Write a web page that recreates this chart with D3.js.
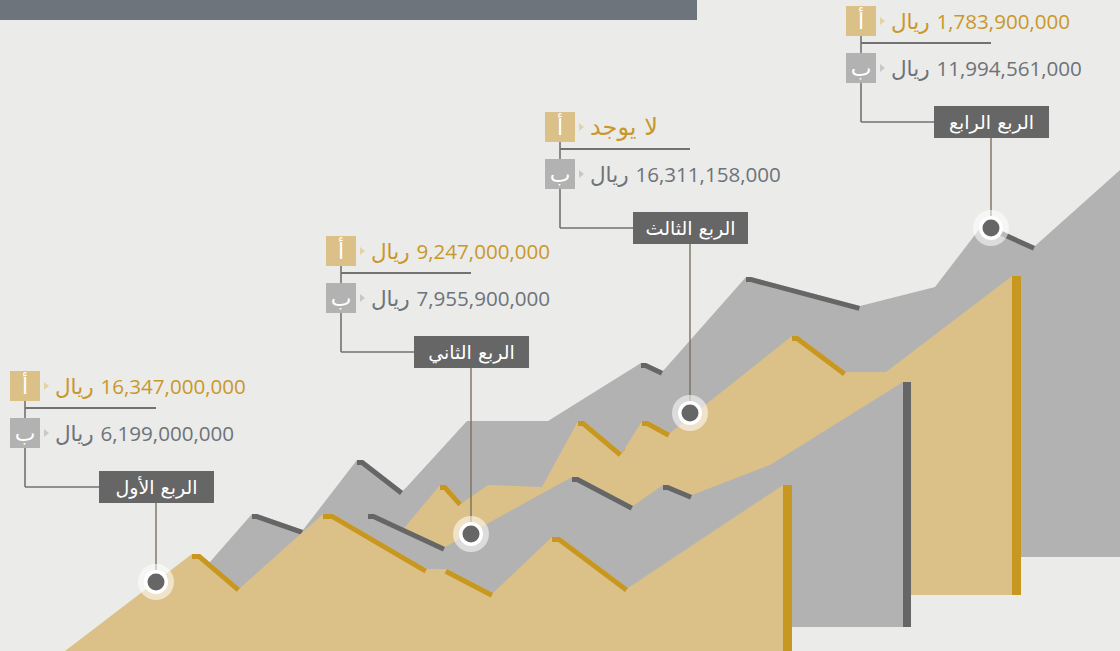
<!DOCTYPE html>
<html lang="ar">
<head>
<meta charset="utf-8">
<script src="https://cdn.jsdelivr.net/npm/d3@7"></script>
<style>
  html, body { margin: 0; padding: 0; background: #ebebe9; }
  svg { display: block; }
</style>
</head>
<body>
<div class="canvas"></div>
<script>
// chart data
const quarters = ['الربع الأول', 'الربع الثاني', 'الربع الثالث', 'الربع الرابع'];
const valuesA = [16347000000, 9247000000, null, 1783900000];
const valuesB = [6199000000, 7955900000, 16311158000, 11994561000];
const markers = ['أ', 'ب'];
const currency = 'ريال';
const noValue = 'لا يوجد';

const width = 1120, height = 651;

const svg = d3.select('.canvas')
    .append('svg')
    .attr('width', width)
    .attr('height', height);

// design units -> pixels
const x = d3.scaleLinear().domain([0, 1120]).range([0, width]);
const y = d3.scaleLinear().domain([0, 651]).range([0, height]);

const line = d3.line().x(d => x(d[0])).y(d => y(d[1]));

// mountain layers, back to front
const layers = [
    {
        fill: '#b2b2b2', edge: '#666666',
        outline: [[132,651],[252,514],[257,514],[303,530],[357,460],[363,460],[403,491],[467,421],[548,421],
                  [641,363],[646,363],[663,371],[746,277],[751,277],[860,306],[935,287],[981,227],[993,227],
                  [1035,246],[1130,161],[1130,557],[785,557],[785,651]],
        strips: [[[252,514],[257,514],[303,530]], [[357,460],[363,460],[403,491]], [[641,363],[646,363],[663,371]],
                 [[746,277],[751,277],[860,306]], [[981,227],[993,227],[1035,246]]],
        face: null
    },
    {
        fill: '#dbc088', edge: '#c8971f',
        outline: [[300,651],[405,527],[440,485],[446,485],[462,503],[488,485],[542,487],[578,421],[584,421],
                  [622,453],[642,421],[648,421],[670,433],[792,336],[798,336],[846,372],[886,372],[1012,276],
                  [1021,276],[1021,595],[785,595],[785,651]],
        strips: [[[440,485],[446,485],[462,503]], [[578,421],[584,421],[622,453]], [[642,421],[648,421],[670,433]],
                 [[792,336],[798,336],[846,372]]],
        face: [1012, 1021, 276, 595]
    },
    {
        fill: '#b2b2b2', edge: '#666666',
        outline: [[310,651],[368,514],[374,514],[445,547],[572,477],[578,477],[633,506],[663,485],[668,485],
                  [692,495],[770,465],[903,382],[911,382],[911,627],[786,627],[786,651]],
        strips: [[[368,514],[374,514],[445,547]], [[572,477],[578,477],[633,506]], [[663,485],[668,485],[692,495]]],
        face: [903, 911, 382, 627]
    },
    {
        fill: '#dbc088', edge: '#c8971f',
        outline: [[65,651],[192,554],[200,554],[240,588],[323,514],[333,514],[427,569],[447,569],[493,593],
                  [552,537],[560,537],[628,588],[783,485],[792,485],[792,651]],
        strips: [[[192,554],[200,554],[240,588]], [[323,514],[333,514],[427,569]], [[447,569],[493,593]],
                 [[552,537],[560,537],[628,588]]],
        face: [783, 792, 485, 651]
    }
];

// annotation anchors: box corner and marker point on the ridge
const notes = [
    {left: 10,  top: 371, cx: 156, cy: 582},
    {left: 326, top: 236, cx: 471, cy: 534},
    {left: 545, top: 112, cx: 690, cy: 413},
    {left: 846, top: 6,   cx: 991, cy: 228}
];

// background + header bar
svg.append('rect').attr('width', width).attr('height', height).attr('fill', '#ebebe9');
svg.append('rect').attr('x', 0).attr('y', 0).attr('width', x(697)).attr('height', y(20)).attr('fill', '#6e747b');

// mountains
const defs = svg.append('defs');
layers.forEach((layer, i) => {
    defs.append('clipPath').attr('id', 'clip' + i)
        .append('path').attr('d', line(layer.outline) + 'Z');

    const g = svg.append('g');
    g.append('path')
        .attr('d', line(layer.outline) + 'Z')
        .attr('fill', layer.fill);

    g.append('g').attr('clip-path', `url(#clip${i})`)
        .selectAll('path')
        .data(layer.strips)
        .enter()
        .append('path')
        .attr('d', d => line(d))
        .attr('fill', 'none')
        .attr('stroke', layer.edge)
        .attr('stroke-width', 10)
        .attr('stroke-linejoin', 'miter');

    if (layer.face) {
        const [x0, x1, y0, y1] = layer.face;
        g.append('rect')
            .attr('x', x(x0)).attr('y', y(y0))
            .attr('width', x(x1) - x(x0)).attr('height', y(y1) - y(y0))
            .attr('fill', layer.edge);
    }
});

const fmt = d3.format(',');
const digitFont = "'Open Sans', sans-serif";
const arabicFont = "'DejaVu Sans', sans-serif";

// rtl line (number + currency) whose left edge sits on xLeft
const rtlText = (g, parts, xLeft, baseline, color) => {
    const t = g.append('text')
        .attr('x', 0).attr('y', baseline)
        .attr('direction', 'rtl')
        .attr('fill', color);
    parts.forEach(p => {
        t.append('tspan')
            .style('font-family', p.font)
            .style('font-size', p.size + 'px')
            .text(p.text);
    });
    const bb = t.node().getBBox();
    t.attr('x', xLeft - bb.x);
    return t;
};

const valueParts = v => v == null
    ? [{text: noValue, font: arabicFont, size: 24}]
    : [{text: fmt(v), font: digitFont, size: 20.6}, {text: ' ' + currency, font: arabicFont, size: 21.5}];

quarters.forEach((q, i) => {
    const n = notes[i];
    const g = svg.append('g');
    const left = x(n.left), top = y(n.top);
    const cx = x(n.cx), cy = y(n.cy);
    const lx = left + 15;

    // stem from label to marker
    g.append('line')
        .attr('x1', cx).attr('x2', cx)
        .attr('y1', top + 132).attr('y2', cy)
        .attr('stroke', '#79725f').attr('stroke-width', 1.4);

    // marker
    g.append('circle').attr('cx', cx).attr('cy', cy).attr('r', 18).attr('fill', '#fff').attr('opacity', 0.55);
    g.append('circle').attr('cx', cx).attr('cy', cy).attr('r', 12).attr('fill', '#fff');
    g.append('circle').attr('cx', cx).attr('cy', cy).attr('r', 8.5).attr('fill', '#666');

    // bracket
    g.append('line')
        .attr('x1', lx).attr('x2', lx).attr('y1', top + 30).attr('y2', top + 116)
        .attr('stroke', '#727272').attr('stroke-width', 1.6);
    g.append('line')
        .attr('x1', lx).attr('x2', cx - 57).attr('y1', top + 116).attr('y2', top + 116)
        .attr('stroke', '#727272').attr('stroke-width', 1.6);
    g.append('line')
        .attr('x1', lx).attr('x2', cx).attr('y1', top + 37).attr('y2', top + 37)
        .attr('stroke', '#727272').attr('stroke-width', 1.8);

    // two rows: a (gold) and b (gray)
    const rows = [
        {mark: markers[0], box: '#dbc088', tri: '#e4d2a4', color: '#c9982a', value: valuesA[i], dy: 0},
        {mark: markers[1], box: '#b2b2b2', tri: '#c8c8c8', color: '#6e737a', value: valuesB[i], dy: 47}
    ];
    rows.forEach(r => {
        const ry = top + r.dy;
        g.append('rect').attr('x', left).attr('y', ry).attr('width', 30).attr('height', 30).attr('fill', r.box);
        g.append('text')
            .attr('x', left + 15).attr('y', ry + 23)
            .attr('text-anchor', 'middle')
            .style('font-family', arabicFont).style('font-size', '22px')
            .attr('fill', '#fff')
            .text(r.mark);
        g.append('path')
            .attr('d', `M${left + 34},${ry + 11}L${left + 39},${ry + 15}L${left + 34},${ry + 19}Z`)
            .attr('fill', r.tri);
        rtlText(g, valueParts(r.value), left + 45, ry + 23, r.color);
    });

    // quarter label
    g.append('rect')
        .attr('x', cx - 57).attr('y', top + 100)
        .attr('width', 115).attr('height', 32)
        .attr('fill', '#666666');
    g.append('text')
        .attr('x', cx + 0.5).attr('y', top + 123)
        .attr('text-anchor', 'middle')
        .attr('direction', 'rtl')
        .style('font-family', arabicFont).style('font-size', '19px')
        .attr('fill', '#fff')
        .text(q);
});
</script>
</body>
</html>
